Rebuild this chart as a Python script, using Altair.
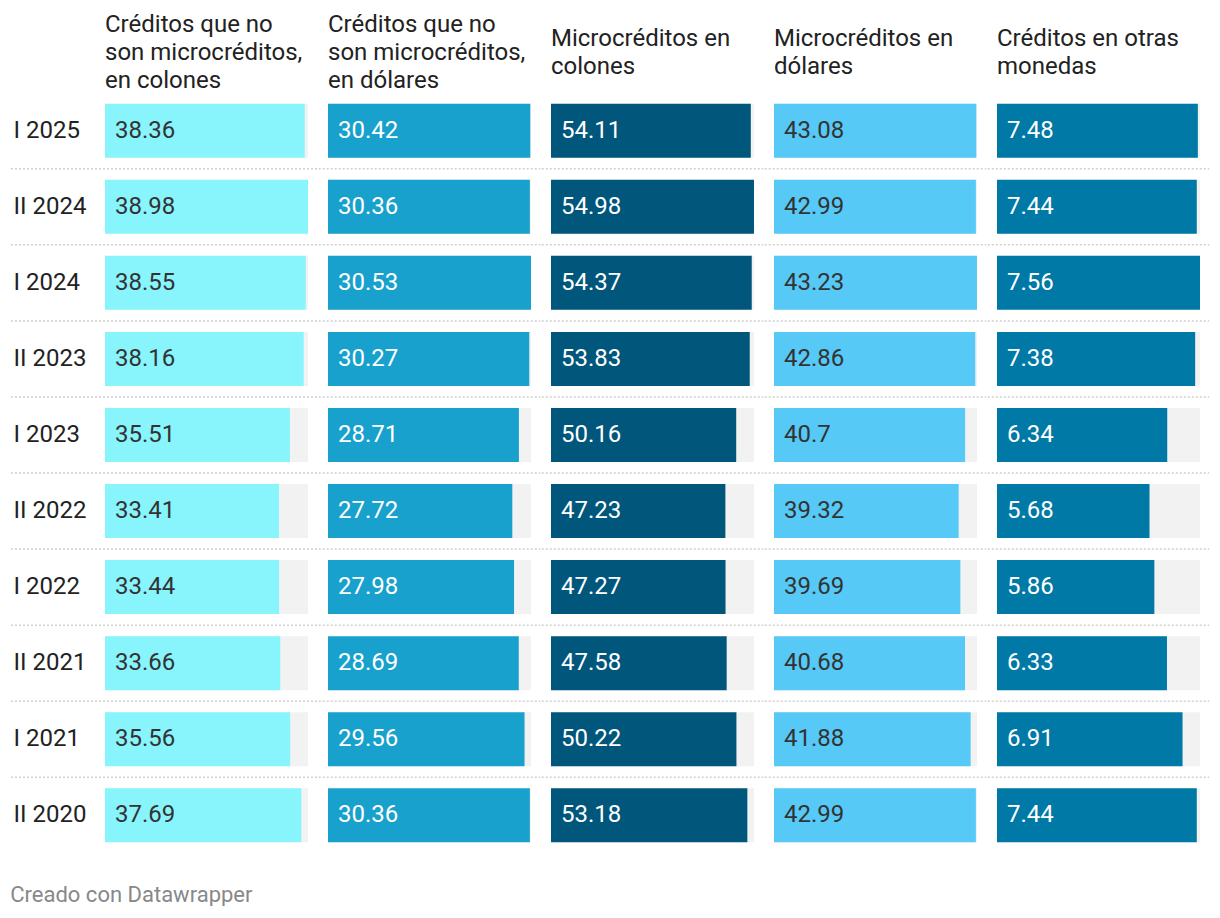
import altair as alt
import pandas as pd

periods = ["I 2025", "II 2024", "I 2024", "II 2023", "I 2023",
           "II 2022", "I 2022", "II 2021", "I 2021", "II 2020"]

headers = [
    ["Créditos que no", "son microcréditos,", "en colones"],
    ["Créditos que no", "son microcréditos,", "en dólares"],
    ["Microcréditos en", "colones"],
    ["Microcréditos en", "dólares"],
    ["Créditos en otras", "monedas"],
]

no_micro_colones = [38.36, 38.98, 38.55, 38.16, 35.51, 33.41, 33.44, 33.66, 35.56, 37.69]
no_micro_dolares = [30.42, 30.36, 30.53, 30.27, 28.71, 27.72, 27.98, 28.69, 29.56, 30.36]
micro_colones = [54.11, 54.98, 54.37, 53.83, 50.16, 47.23, 47.27, 47.58, 50.22, 53.18]
micro_dolares = [43.08, 42.99, 43.23, 42.86, 40.7, 39.32, 39.69, 40.68, 41.88, 42.99]
otras_monedas = [7.48, 7.44, 7.56, 7.38, 6.34, 5.68, 5.86, 6.33, 6.91, 7.44]

series = [no_micro_colones, no_micro_dolares, micro_colones, micro_dolares, otras_monedas]
bar_colors = ["#88f5fd", "#18a1cd", "#00567b", "#56c9f6", "#0079a6"]
text_colors = ["#333333", "#ffffff", "#ffffff", "#333333", "#ffffff"]

FONT = "Roboto"
FS = 24
PANEL_W = 203
STEP = 76

panels = []
for i, (head, vals, bc, tc) in enumerate(zip(headers, series, bar_colors, text_colors)):
    df = pd.DataFrame({
        "period": periods,
        "value": vals,
        "label": [str(v) for v in vals],
    })
    yscale = alt.Scale(paddingInner=0.29, paddingOuter=0.14)
    if i == 0:
        yaxis = alt.Axis(title=None, labelAlign="left", labelPadding=92, ticks=False,
                         tickSize=0, domain=False, labelFontSize=FS, labelColor="#222222",
                         labelFont=FONT, labelLimit=0)
    else:
        yaxis = None
    y = alt.Y("period:N", sort=periods, scale=yscale, axis=yaxis, title=None)
    xscale = alt.Scale(domain=[0, max(vals)], nice=False, zero=True)

    base = alt.Chart(df).transform_joinaggregate(vmax="max(value)")
    bg = base.mark_bar(color="#f2f2f2").encode(
        x=alt.X("vmax:Q", scale=xscale, axis=None), y=y)
    bar = base.mark_bar(color=bc).encode(
        x=alt.X("value:Q", scale=xscale, axis=None), y=y)
    txt = base.mark_text(align="left", baseline="middle", dx=10, fontSize=FS,
                         font=FONT, color=tc).encode(
        x=alt.value(0), y=y, text="label:N")
    sep = alt.Chart(df[df["period"] != periods[0]]).mark_rule(
        color="#d0d0d0", strokeDash=[2, 2], strokeWidth=1.5).encode(
        x=alt.value(-94 if i == 0 else -9.25),
        x2=alt.value(PANEL_W + 9.25),
        y=y,
        yOffset=alt.value(-11))

    panel = alt.layer(bg, bar, txt, sep).properties(
        width=PANEL_W, height=STEP * len(periods),
        title=alt.TitleParams(text=head, anchor="start", frame="group", fontSize=FS,
                              fontWeight="normal", color="#222222", font=FONT,
                              lineHeight=28, offset=0 if len(head) == 3 else 14))
    panels.append(panel)

chart = alt.hconcat(*panels, spacing=0).properties(
    title=alt.TitleParams(text="Creado con Datawrapper", orient="bottom", anchor="start",
                          fontSize=22, fontWeight="normal", color="#888888", font=FONT,
                          offset=32),
    padding={"left": 2, "top": 5, "right": 0, "bottom": 0},
).configure(font=FONT, background="white").configure_view(stroke=None)

chart.save("out.html", embed_options={"renderer": "svg", "actions": False})
